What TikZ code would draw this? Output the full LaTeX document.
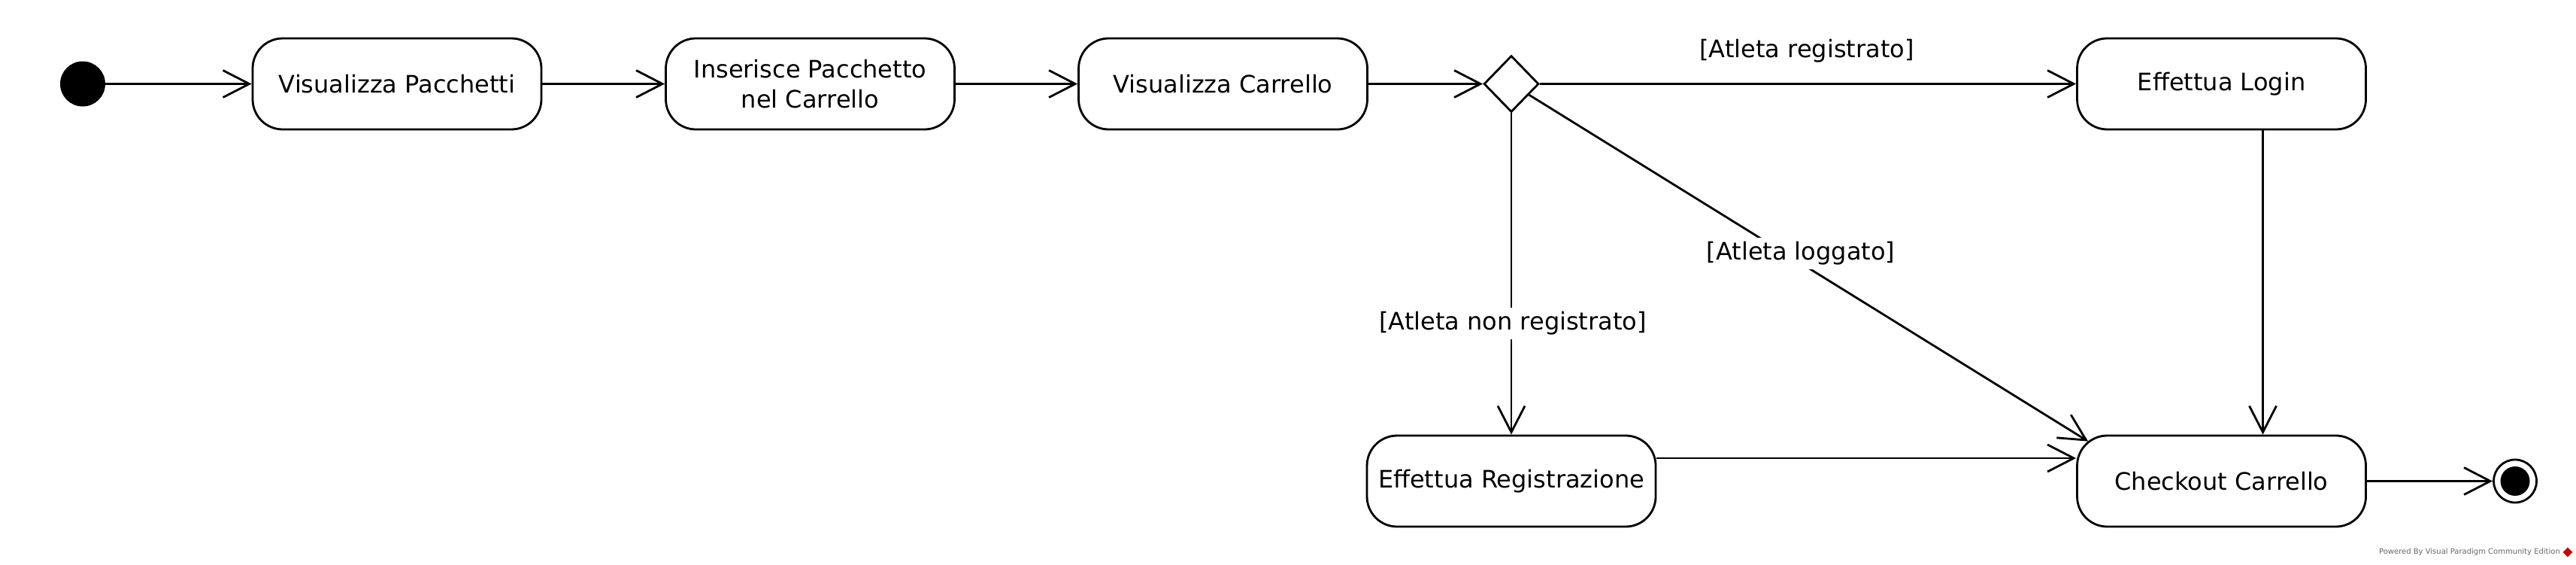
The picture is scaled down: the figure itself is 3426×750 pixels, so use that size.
\documentclass[tikz,border=0pt]{standalone}
\usepackage{fontspec}
\setmainfont{DejaVu Sans}
\usetikzlibrary{arrows.meta,shapes.geometric}
\begin{document}
\begin{tikzpicture}[x=1pt,y=-1pt,
  act/.style={draw, line width=2.8pt, rounded corners=40pt, minimum width=384pt, minimum height=121pt, align=center, font=\fontsize{32}{40}\selectfont, inner sep=0pt},
  flow/.style={line width=2.8pt, -{Straight Barb[length=35pt,width=36pt]}},
  guard/.style={font=\fontsize{32}{40}\selectfont, fill=white, inner sep=6pt},
  pseudo/.style={circle, inner sep=0pt}
]
\useasboundingbox[fill=white] (0,0) rectangle (3426,750);
\node[pseudo, fill=black, minimum size=60pt] (start) at (110,111.5) {};
\node[act] (vp) at (528,111.5) {Visualizza Pacchetti};
\node[act] (ins) at (1077.5,111.5) {Inserisce Pacchetto\\nel Carrello};
\node[act] (vc) at (1626.5,111.5) {Visualizza Carrello};
\node[diamond, draw, line width=2.8pt, minimum width=73pt, minimum height=75pt, inner sep=0pt] (dec) at (2010,111.5) {};
\node[act] (login) at (2954.5,111.5) {Effettua Login};
\node[act] (reg) at (2010,639.5) {Effettua Registrazione};
\node[act] (chk) at (2954.5,639.5) {Checkout Carrello};
\node[pseudo, draw, line width=2.8pt, minimum size=57pt] (end) at (3345,639.5) {};
\node[pseudo, fill=black, minimum size=39pt] (endin) at (end.center) {};

\draw[flow] (start) -- (vp);
\draw[flow] (vp) -- (ins);
\draw[flow] (ins) -- (vc);
\draw[flow] (vc) -- (dec);
\draw[flow] (dec) -- (login);
\draw[flow] (dec) -- (reg);
\coordinate (chktip) at ([xshift=16pt,yshift=-9pt]chk.north west);
\draw[flow] (dec) -- (chktip);
\draw[flow] ([yshift=30.5pt]reg.east) -- ([yshift=30.5pt]chk.west);
\draw[flow] ([xshift=55pt]login.south) -- ([xshift=55pt]chk.north);
\draw[flow] (chk) -- (end);

\node[guard] (g1) at (2403,68) {[Atleta registrato]};
\node[guard] (g2) at (2395,337) {[Atleta loggato]};
\node[guard] (g3) at (2012,430) {[Atleta non registrato]};

\node[font=\fontsize{10}{11}\selectfont, text=black!60, anchor=east, inner sep=0pt] (wm) at (3405,734) {Powered By Visual Paradigm Community Edition};
\node[diamond, fill=red!80!black, minimum size=13pt, inner sep=0pt] (logo) at (3415,734) {};
\end{tikzpicture}
\end{document}
